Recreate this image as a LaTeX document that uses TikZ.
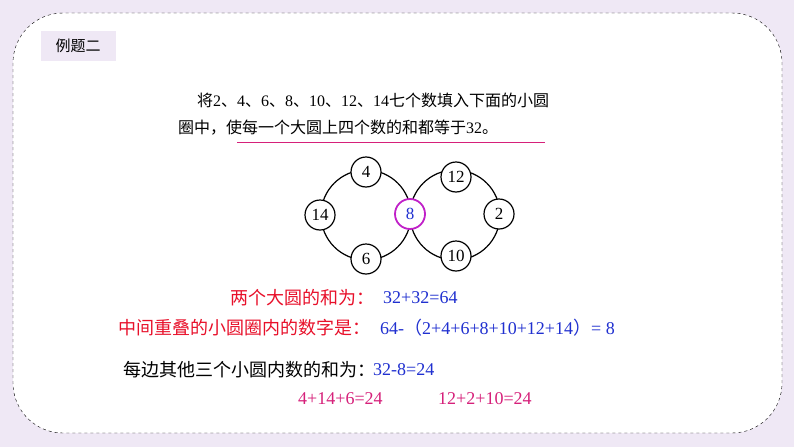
\documentclass[tikz,border=0pt]{standalone}
\usepackage{fontspec}
\setmainfont{Liberation Serif}
\newfontfamily\cjk{Noto Sans CJK SC}
\newcommand{\cj}[1]{{\cjk #1}}
\begin{document}
\begin{tikzpicture}[x=1pt,y=-1pt,
  sm/.style={circle,draw,line width=1.2pt,fill=white,minimum size=30pt,inner sep=0pt,font=\fontsize{17}{17}\selectfont},
  big/.style={line width=1.2pt},
  txt/.style={anchor=west,inner sep=0pt,font=\fontsize{16}{16}\selectfont},
  txtb/.style={anchor=west,inner sep=0pt,font=\fontsize{18}{18}\selectfont}]
\definecolor{bg}{HTML}{EFE8F5}
\definecolor{rd}{HTML}{E8102A}
\definecolor{bl}{HTML}{2030D0}
\definecolor{mg}{HTML}{D6207A}
\definecolor{pu}{HTML}{C020C8}
\fill[bg] (0,0) rectangle (794,447);
\useasboundingbox (0,0) rectangle (794,447);
\draw[dashed,fill=white,rounded corners=50pt] (13,13) rectangle (782,433);
\node[fill=bg,minimum width=75pt,minimum height=30pt,font=\cjk\fontsize{15}{15}\selectfont] (lab) at (78,46) {例题二};
\node[txt] (l1) at (197,100) {\cj{将}2\cj{、}4\cj{、}6\cj{、}8\cj{、}10\cj{、}12\cj{、}14\cj{七个数填入下面的小圆}};
\node[txt] (l2) at (178,128) {\cj{圈中，使每一个大圆上四个数的和都等于}32\cj{。}};
\coordinate (u1) at (237,142); \coordinate (u2) at (545,142);
\draw[mg,thick] (u1) -- (u2);
\draw[big] (366,215) circle (45);
\draw[big] (455,215) circle (45);
\node[sm] (a) at (366,172) {4};
\node[sm] (b) at (320,215) {14};
\node[sm] (c) at (366,259) {6};
\node[sm,draw=pu,line width=1.8pt,text=bl] (d) at (410,214) {8};
\node[sm] (e) at (456,177) {12};
\node[sm] (f) at (499,214) {2};
\node[sm] (g) at (456,256) {10};
\node[txtb,text=rd] (r1) at (230,298) {\cj{两个大圆的和为：}};
\node[txtb,text=bl] (r1b) at (383,298) {32+32=64};
\node[txtb,text=rd] (r2) at (118,328) {\cj{中间重叠的小圆圈内的数字是：}};
\node[txtb,text=bl] (r2b) at (380,328) {64-\cj{（}2+4+6+8+10+12+14\cj{）}= 8};
\node[txtb] (r3) at (123,370) {\cj{每边其他三个小圆内数的和为：}};
\node[txtb,text=bl] (r3b) at (373,370) {32-8=24};
\node[txtb,text=mg] (r4) at (298,399) {4+14+6=24};
\node[txtb,text=mg] (r5) at (438,399) {12+2+10=24};
\end{tikzpicture}
\end{document}
